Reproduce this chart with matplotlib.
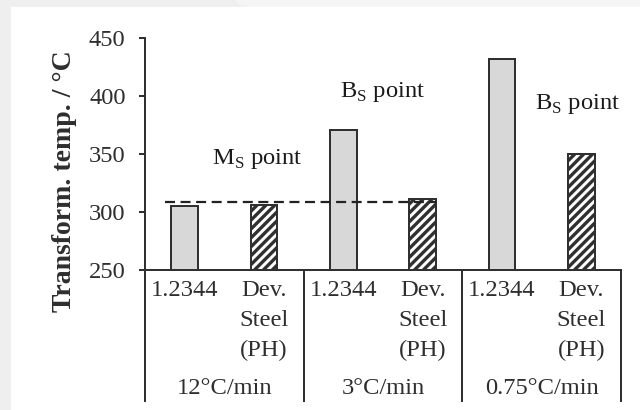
import matplotlib
matplotlib.use("Agg")
import matplotlib.pyplot as plt
from matplotlib.patches import Rectangle, Polygon
import numpy as np

# --- data ---------------------------------------------------------------
rates = ["12°C/min", "3°C/min", "0.75°C/min"]
steels = ["1.2344", "Dev.\nSteel\n(PH)"]
temp_12344 = [305, 371, 432]          # 1.2344 transformation temperature, °C
temp_dev = [306, 311, 350]            # developed steel (PH), °C
point_labels = [r"M$_\mathrm{S}$ point", r"B$_\mathrm{S}$ point", r"B$_\mathrm{S}$ point"]
ms_level = 309                        # reference M_S level (dashed line)
yticks = [250, 300, 350, 400, 450]

# --- style --------------------------------------------------------------
plt.rcParams["font.family"] = ["Liberation Serif", "DejaVu Serif"]
plt.rcParams["mathtext.fontset"] = "custom"
plt.rcParams["mathtext.rm"] = "Liberation Serif"
plt.rcParams["hatch.linewidth"] = 3.0
plt.rcParams["hatch.color"] = "#333333"

ink = "#303030"
txt_col = "#2e2e2e"
fs = 22

fig = plt.figure(figsize=(8, 5.125), dpi=80, facecolor="#efefef")
# white panel and the light strip on the top edge
fig.patches.append(Rectangle((11 / 640, 0), 1 - 11 / 640, 403 / 410,
                             transform=fig.transFigure, facecolor="white",
                             edgecolor="none", zorder=-10))
fig.patches.append(Polygon([(235 / 640, 1), (1, 1), (1, 403 / 410), (242 / 640, 403 / 410)],
                           closed=True, transform=fig.transFigure,
                           facecolor="#f5f5f5", edgecolor="none", zorder=-10))

ax = fig.add_axes([145 / 640, 140 / 410, 476 / 640, 232 / 410])
ax.set_facecolor("none")

n_groups = len(rates)
x1 = np.arange(n_groups) * 2
x2 = x1 + 1
width = 0.34

ax.bar(x1, np.array(temp_12344) - 250, bottom=250, width=width,
       color="#d8d8d8", edgecolor=ink, linewidth=1.8, zorder=3)
ax.bar(x2, np.array(temp_dev) - 250, bottom=250, width=width,
       color="white", edgecolor=ink, linewidth=1.8, hatch="///", zorder=3)

ax.set_xlim(-0.5, 2 * n_groups - 0.5)
ax.set_ylim(250, 450)
ax.set_yticks(yticks)
ax.set_xticks([])
ax.tick_params(axis="y", direction="out", length=5.5, width=1.8, color=ink,
               labelsize=fs, labelcolor=txt_col, pad=12)

for s in ("top", "right"):
    ax.spines[s].set_visible(False)
for s in ("left", "bottom"):
    ax.spines[s].set_color(ink)
    ax.spines[s].set_linewidth(1.8)

# dashed M_S reference line
ax.plot([-0.25, x2[1] + width / 2], [ms_level, ms_level], color="#222222",
        linestyle=(0, (4.5, 2.5)), linewidth=2.0, zorder=4)

# point labels above each group
label_pos = [(0.91, 341), (2.5, 399.5), (4.95, 388.5)]
for (lx, ly), txt in zip(label_pos, point_labels):
    ax.text(lx, ly, txt, ha="center", va="baseline", fontsize=fs, color="#1a1a1a")

# category table under the axis
xt = ax.get_xaxis_transform()
bounds = np.arange(n_groups + 1) * 2 - 0.5
for b in bounds:
    ax.plot([b, b], [0, -0.57], transform=xt, color=ink, linewidth=1.8,
            clip_on=False, solid_capstyle="butt")
for g in range(n_groups):
    ax.text(x1[g], -0.045, steels[0], transform=xt, ha="center", va="top",
            fontsize=fs, color=txt_col)
    ax.text(x2[g], -0.045, steels[1], transform=xt, ha="center", va="top",
            fontsize=fs, color=txt_col, linespacing=1.55)
    ax.text((x1[g] + x2[g]) / 2, -0.51, rates[g], transform=xt, ha="center",
            va="center", fontsize=fs, color=txt_col)

ax.set_ylabel("Transform. temp. / °C", fontsize=25, fontweight="bold",
              color=txt_col)
ax.yaxis.set_label_coords(-0.143, 0.381, transform=ax.transAxes)

fig.savefig("out.png", dpi=80, facecolor=fig.get_facecolor())
